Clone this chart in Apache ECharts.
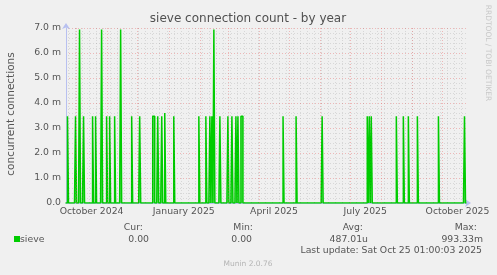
<!DOCTYPE html>
<html><head><meta charset="utf-8">
<script src="https://cdn.jsdelivr.net/npm/echarts@6/dist/echarts.min.js"></script>
<style>html,body{margin:0;padding:0;background:#f0f0f0}#c{width:497px;height:275px}</style>
</head><body><div id="c"></div>
<script>
// ---- data (values in milli-connections, "m") ----
const spikeDates = [
 '2024-09-22','2024-09-30','2024-10-04','2024-10-08','2024-10-17','2024-10-20','2024-10-26','2024-10-31',
 '2024-11-03','2024-11-08','2024-11-14','2024-11-25','2024-12-03','2024-12-16','2024-12-17','2024-12-21',
 '2024-12-25','2024-12-28','2025-01-06','2025-01-31','2025-02-07','2025-02-11','2025-02-13','2025-02-15',
 '2025-02-21','2025-03-01','2025-03-05','2025-03-09','2025-03-11','2025-03-14','2025-03-15','2025-04-25',
 '2025-05-08','2025-06-03','2025-07-18','2025-07-20','2025-07-22','2025-08-16','2025-08-23','2025-08-28',
 '2025-09-06','2025-09-27','2025-10-23'];
const spikeValues = [
 3.47,3.47,6.94,3.47,3.47,3.47,6.94,3.47,
 3.47,3.47,6.94,3.47,3.47,3.47,3.47,3.47,
 3.47,3.6,3.47,3.47,3.47,3.47,3.47,6.94,
 3.47,3.47,3.47,3.47,3.47,3.47,3.47,3.47,
 3.47,3.47,3.47,3.47,3.47,3.47,3.47,3.47,
 3.47,3.47,3.47];
const rangeStart = '2024-09-20T12:00:00Z';
const rangeEnd = '2025-10-24T12:00:00Z';
const yTickValues = [0,1,2,3,4,5,6,7];
const xLabelDates = ['2024-10-16','2025-01-16','2025-04-16','2025-07-16','2025-10-16'];
const xLabelTexts = ['October 2024','January 2025','April 2025','July 2025','October 2025'];
const statHeaders = ['Cur:','Min:','Avg:','Max:'];
const statValues = ['0.00','0.00','487.01u','993.33m'];
const seriesName = 'sieve';
const titleText = 'sieve connection count - by year';
const yTitle = 'concurrent connections';
const lastUpdate = 'Last update: Sat Oct 25 01:00:03 2025';
const footer = 'Munin 2.0.76';
const watermark = 'RRDTOOL / TOBI OETIKER';

// ---- build ----
const DAY = 86400000;
const t = s => Date.parse(s.length === 10 ? s + 'T00:00:00Z' : s);
const xMin = t(rangeStart), xMax = t(rangeEnd);
const spikeMap = {};
spikeDates.forEach((d, i) => spikeMap[t(d)] = spikeValues[i]);
const series = [];
for (let d = t('2024-09-20'); d <= t('2025-10-25'); d += DAY) series.push([d, spikeMap[d] || 0]);
const labelTs = xLabelDates.map(t);

// vertical grid lines (decoration): month starts (major) and Mondays (minor)
const majorLines = [], minorLines = [];
for (let y = 2024, m = 9; y < 2026; m++) { if (m > 11) { m = 0; y++; } const v = Date.UTC(y, m, 1); if (v > xMax) break; if (v >= xMin) majorLines.push({xAxis: v}); }
for (let d = t('2024-09-23'); d <= xMax; d += 7 * DAY) minorLines.push({xAxis: d});

const FONT = 'DejaVu Sans';
const TXT = '#555';
const MINOR = 'rgba(0,0,0,0.10)';
const MAJOR = 'rgba(230,90,90,0.38)';
const chart = echarts.init(document.getElementById('c'));
const txt = (x, y, s, o) => Object.assign({type: 'text', x, y, style: Object.assign({text: s, fill: TXT, font: '9.3px "' + FONT + '"', textVerticalAlign: 'middle'}, o || {})});
const g = [
  txt(248, 19, titleText, {font: '12px "' + FONT + '"', textAlign: 'center', fill: '#505050'}),
  {type: 'text', x: 11, y: 114, rotation: Math.PI / 2, style: {text: yTitle, fill: TXT, font: '10.5px "' + FONT + '"', textAlign: 'center', textVerticalAlign: 'middle'}},
  {type: 'text', x: 488, y: 53, rotation: -Math.PI / 2, style: {text: watermark, fill: '#c8c8c8', font: '7.5px "' + FONT + '"', textAlign: 'center', textVerticalAlign: 'middle'}},
  {type: 'rect', shape: {x: 14, y: 236, width: 6, height: 6}, style: {fill: '#00cc00'}},
  txt(20, 239.5, seriesName),
  txt(482, 251, lastUpdate, {textAlign: 'right'}),
  txt(248, 264, footer, {textAlign: 'center', fill: '#b4b4b4', font: '7.5px "' + FONT + '"'})
];
const hdrX = [143, 253, 363, 477], valX = [149, 252, 368, 483];
statHeaders.forEach((s, i) => g.push(txt(hdrX[i], 228, s, {textAlign: 'right'})));
statValues.forEach((s, i) => g.push(txt(valX[i], 239.5, s, {textAlign: 'right'})));

chart.setOption({
  animation: false,
  backgroundColor: '#f0f0f0',
  grid: {left: 66, right: 31, top: 28, bottom: 72},
  xAxis: {
    type: 'value', min: xMin, max: xMax,
    axisLine: {show: true, lineStyle: {color: '#b8c0f0', width: 1}, symbol: ['none', 'arrow'], symbolSize: [6, 6], symbolOffset: [0, 5]},
    axisTick: {show: false},
    splitLine: {show: false},
    axisLabel: {customValues: labelTs, margin: 4, color: TXT, fontFamily: FONT, fontSize: 9.3, hideOverlap: false,
      formatter: v => { const i = labelTs.indexOf(v); return i >= 0 ? xLabelTexts[i] : ''; }}
  },
  yAxis: {
    type: 'value', min: 0, max: 7, interval: 1,
    axisLine: {show: true, lineStyle: {color: '#b8c0f0', width: 1}, symbol: ['none', 'arrow'], symbolSize: [6, 6], symbolOffset: [0, 5]},
    axisTick: {show: false},
    axisLabel: {margin: 5, color: TXT, fontFamily: FONT, fontSize: 9.3,
      formatter: v => yTickValues.indexOf(v) < 0 ? '' : (v === 0 ? '0.0' : v.toFixed(1) + ' m')},
    splitLine: {show: true, lineStyle: {color: MAJOR, type: [1, 2], width: 1}},
    minorTick: {show: false, splitNumber: 5},
    minorSplitLine: {show: true, lineStyle: {color: MINOR, type: [1, 2], width: 1}}
  },
  graphic: g,
  series: [
    {type: 'line', data: [[xMin, 0]], symbol: 'none', lineStyle: {opacity: 0}, silent: true, z: 1,
      markLine: {silent: true, symbol: 'none', label: {show: false}, animation: false,
        data: minorLines.map(o => Object.assign({lineStyle: {color: MINOR, type: [1, 2], width: 1}}, o))
          .concat(majorLines.map(o => Object.assign({lineStyle: {color: MAJOR, type: [1, 2], width: 1}}, o)))}},
    {type: 'line', name: seriesName, data: series, step: 'end', symbol: 'none', z: 3,
      lineStyle: {color: '#00cc00', width: 1.5},
      areaStyle: {color: 'rgba(0,204,0,0.7)'}}
  ]
});
</script></body></html>
